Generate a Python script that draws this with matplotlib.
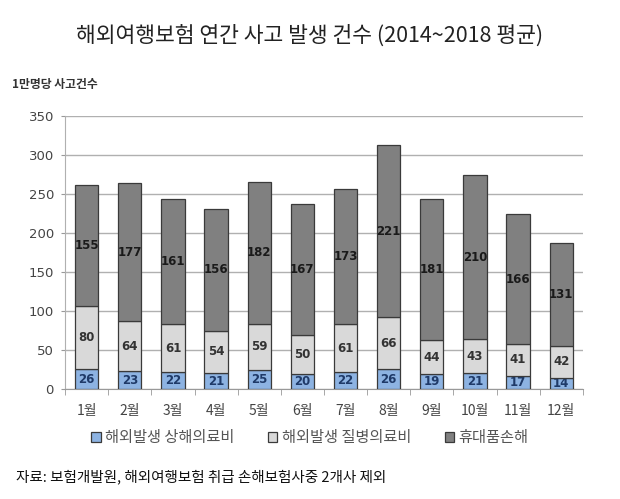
import matplotlib.pyplot as plt
import numpy as np

plt.rcParams['font.family'] = ['Noto Sans CJK KR', 'DejaVu Sans']

months = ['1월', '2월', '3월', '4월', '5월', '6월', '7월', '8월', '9월', '10월', '11월', '12월']
injury = [26, 23, 22, 21, 25, 20, 22, 26, 19, 21, 17, 14]
illness = [80, 64, 61, 54, 59, 50, 61, 66, 44, 43, 41, 42]
belongings = [155, 177, 161, 156, 182, 167, 173, 221, 181, 210, 166, 131]
series_names = ['해외발생 상해의료비', '해외발생 질병의료비', '휴대품손해']
colors = ['#8db3e2', '#d9d9d9', '#808080']
label_colors = ['#1f3a68', '#333333', '#1a1a1a']

fig = plt.figure(figsize=(6.2, 4.99), dpi=100)
ax = fig.add_axes([0.105, 0.22, 0.835, 0.5475])

x = np.arange(len(months))
bottom = np.zeros(len(months))
for vals, name, c, lc in zip([injury, illness, belongings], series_names, colors, label_colors):
    vals = np.array(vals)
    bars = ax.bar(x, vals, 0.54, bottom=bottom, color=c, edgecolor='#3a3a3a',
                  linewidth=0.9, label=name, zorder=3)
    ax.bar_label(bars, labels=[str(v) for v in vals], label_type='center',
                 fontsize=8.5, fontweight='bold', color=lc, family='DejaVu Sans')
    bottom += vals

ax.set_xlim(-0.5, 11.5)
ax.set_ylim(0, 350)
ax.set_yticks(range(0, 351, 50))
ax.yaxis.grid(True, color='#b0b0b0', linewidth=1.0, zorder=0)
ax.set_axisbelow(True)

ax.set_xticks(x)
ax.set_xticklabels(months, fontsize=10, color='#444444')
ax.tick_params(axis='x', length=0, pad=11)
ax.set_xticks(np.arange(-0.5, 12, 1), minor=True)
ax.tick_params(axis='x', which='minor', length=4, color='#999999')
ax.tick_params(axis='y', length=3, color='#999999', labelsize=9.5, labelcolor='#444444', pad=5)
for lbl in ax.get_yticklabels():
    lbl.set_family('DejaVu Sans')

for s in ['top', 'right']:
    ax.spines[s].set_visible(False)
ax.spines['left'].set_color('#b0b0b0')
ax.spines['bottom'].set_color('#999999')

fig.text(0.5, 0.928, '해외여행보험 연간 사고 발생 건수 (2014~2018 평균)', ha='center',
         va='center', fontsize=15.5, color='#222222')
fig.text(0.02, 0.83, '1만명당 사고건수', ha='left', va='center', fontsize=8.5,
         fontweight='bold', color='#333333')

ax.legend(loc='center', ncol=3, frameon=False, fontsize=11, handlelength=0.6,
          handleheight=0.6, handletextpad=0.3, columnspacing=2.2, labelcolor='#555555')
ax.get_legend().set_bbox_to_anchor((0.5, 0.123), transform=fig.transFigure)

fig.text(0.025, 0.044, '자료: 보험개발원, 해외여행보험 취급 손해보험사중 2개사 제외', ha='left',
         va='center', fontsize=10.5, color='#111111')

fig.savefig('out.png', dpi=100)
